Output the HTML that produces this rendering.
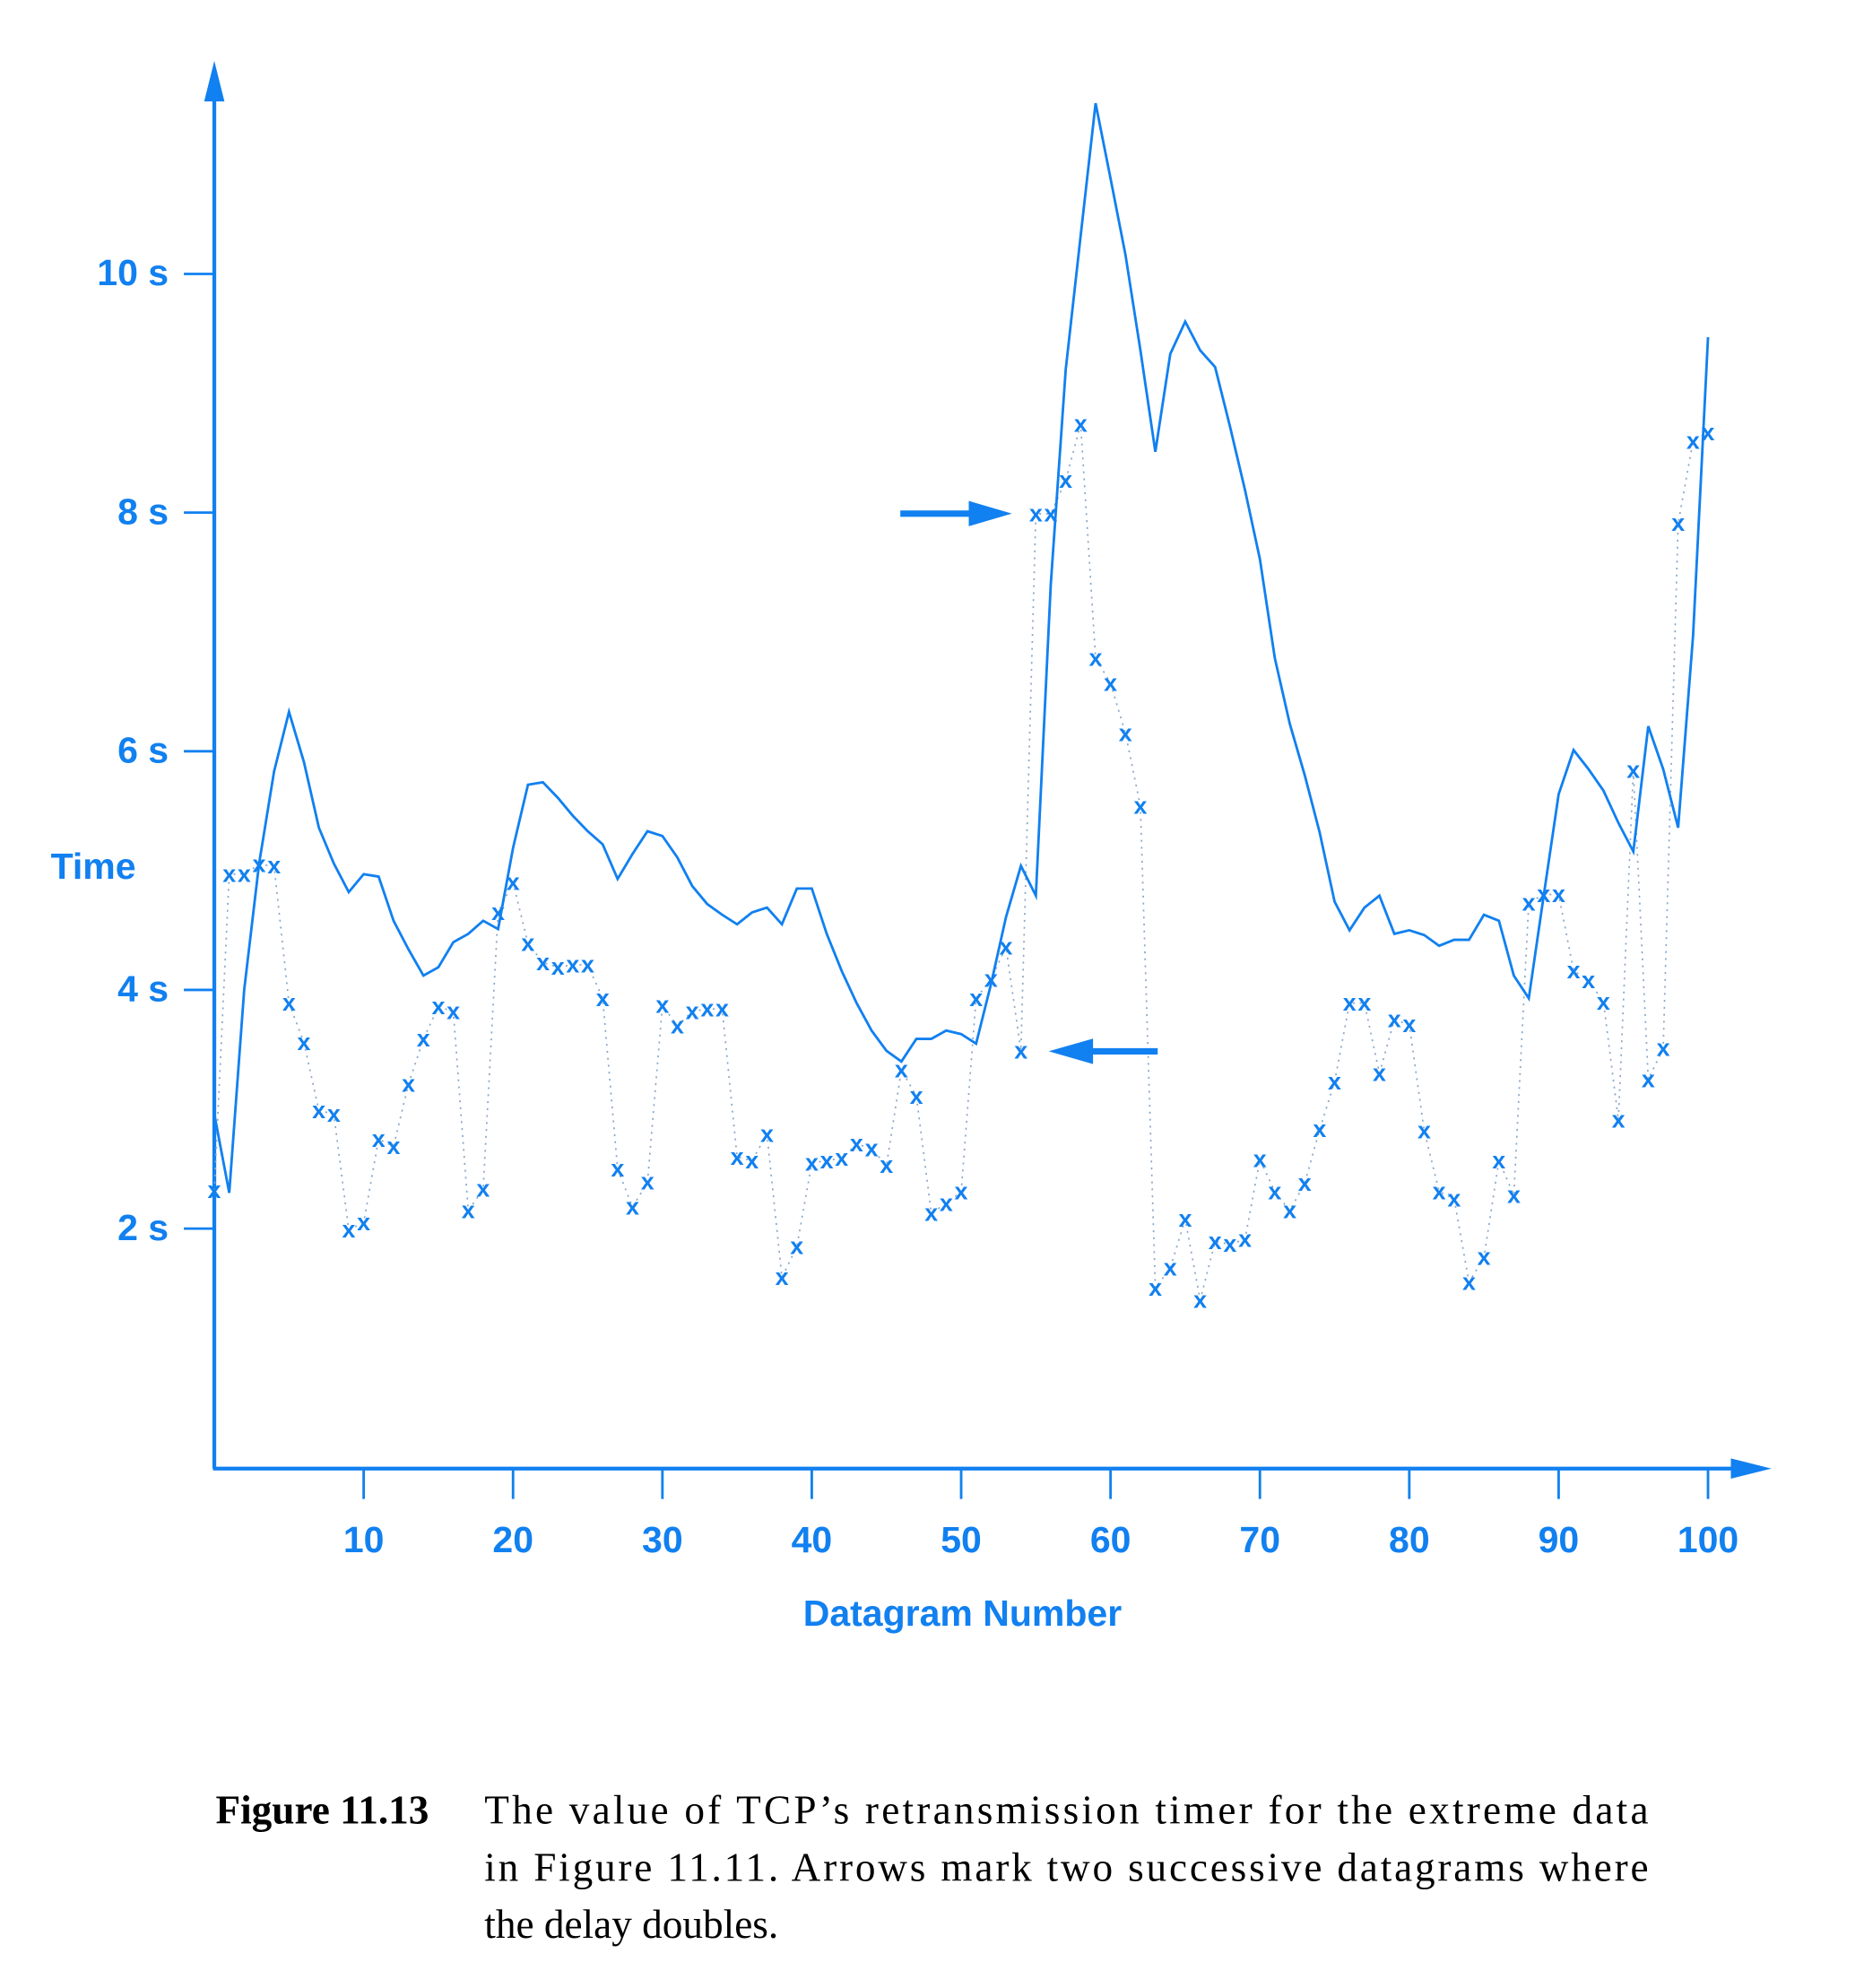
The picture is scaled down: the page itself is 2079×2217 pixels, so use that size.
<!DOCTYPE html>
<html><head><meta charset="utf-8"><style>
html,body{margin:0;padding:0;background:#fff;}
svg{display:block;}
.tk{font-family:"Liberation Sans",Arial,sans-serif;font-weight:bold;font-size:29px;fill:#1180f0;}
.mk{font-family:"Liberation Sans",Arial,sans-serif;font-weight:bold;font-size:19px;fill:#1180f0;}
.cap{font-family:"Liberation Serif","Times New Roman",serif;font-size:32px;fill:#000;}
</style></head><body>
<svg id="chart" width="2079" height="2217" viewBox="0 0 1470 1567.6" xmlns="http://www.w3.org/2000/svg">
<g id="axes"></g>
<g id="dots"></g>
<g id="line"></g>
<g id="marks"></g>
<g>
<line x1="710" y1="405" x2="770" y2="405" stroke="#1180f0" stroke-width="5"/>
<polygon points="764,395 798,405 764,415" fill="#1180f0"/></g>
<g>
<line x1="913" y1="829" x2="855" y2="829" stroke="#1180f0" stroke-width="5"/>
<polygon points="862,819 827,829 862,839" fill="#1180f0"/></g>
<text class="tk" x="40" y="693">Time</text>
<text class="tk" x="759" y="1282" text-anchor="middle">Datagram Number</text>
<g>
<text class="cap" x="170" y="1438" font-weight="bold">Figure 11.13</text>
<text class="cap" x="382" y="1438" textLength="918" lengthAdjust="spacing">The value of TCP’s retransmission timer for the extreme data</text>
<text class="cap" x="382" y="1483" textLength="918" lengthAdjust="spacing">in Figure 11.11.  Arrows mark two successive datagrams where</text>
<text class="cap" x="382" y="1528">the delay doubles.</text>
</g>
</svg>
<script>
const samples=[2.32,4.97,4.97,5.05,5.04,3.89,3.56,2.99,2.96,1.99,2.05,2.75,2.69,3.21,3.59,3.86,3.82,2.15,2.33,4.65,4.90,4.39,4.23,4.19,4.21,4.21,3.93,2.50,2.18,2.39,3.87,3.70,3.82,3.84,3.84,2.60,2.57,2.79,1.59,1.85,2.55,2.57,2.59,2.71,2.67,2.53,3.33,3.11,2.13,2.21,2.31,3.93,4.09,4.36,3.49,7.99,7.99,8.27,8.74,6.78,6.57,6.15,5.54,1.50,1.67,2.08,1.40,1.89,1.87,1.91,2.58,2.31,2.15,2.38,2.83,3.23,3.89,3.89,3.30,3.75,3.71,2.82,2.31,2.25,1.55,1.76,2.57,2.28,4.73,4.80,4.80,4.16,4.08,3.90,2.91,5.84,3.25,3.51,7.91,8.60,8.67];
const timer=[2.96,2.30,4.0,5.06,5.83,6.33,5.91,5.36,5.06,4.82,4.97,4.95,4.58,4.34,4.12,4.19,4.40,4.47,4.58,4.51,5.19,5.72,5.74,5.61,5.46,5.33,5.22,4.93,5.14,5.33,5.29,5.11,4.87,4.72,4.63,4.55,4.65,4.69,4.55,4.85,4.85,4.47,4.16,3.89,3.66,3.49,3.40,3.59,3.59,3.66,3.63,3.55,4.05,4.61,5.04,4.79,7.40,9.20,10.32,11.43,10.80,10.16,9.36,8.51,9.33,9.60,9.36,9.22,8.72,8.19,7.61,6.78,6.23,5.80,5.32,4.74,4.50,4.69,4.79,4.47,4.50,4.46,4.37,4.42,4.42,4.63,4.58,4.12,3.93,4.79,5.64,6.01,5.85,5.67,5.40,5.16,6.21,5.85,5.36,6.97,9.47];
const xTicks=[10,20,30,40,50,60,70,80,90,100];
const yTicks=[2,4,6,8,10];
const yTickLabels=["2 s","4 s","6 s","8 s","10 s"];
const NS="http://www.w3.org/2000/svg";
const X0=169,XU=11.78,Y0=1157,YU=94.1;
const sx=i=>X0+i*XU, sy=v=>Y0-v*YU;
function mk(tag,attrs,parent){const e=document.createElementNS(NS,tag);for(const k in attrs)e.setAttribute(k,attrs[k]);parent.appendChild(e);return e;}
const C="#1180f0";
const ax=document.getElementById('axes');
let a=mk('line',{x1:169,y1:1158,x2:169,y2:70,stroke:C,'stroke-width':3},ax);


a=mk('polygon',{points:"161,80 169,48 177,80",fill:C},ax);


a=mk('line',{x1:168,y1:1158,x2:1372,y2:1158,stroke:C,'stroke-width':3},ax);


a=mk('polygon',{points:"1365,1150 1397,1158 1365,1166",fill:C},ax);


xTicks.forEach(t=>{
 const l=mk('line',{x1:sx(t),y1:1158,x2:sx(t),y2:1182,stroke:C,'stroke-width':2},ax);
 
 
 const tx=mk('text',{x:sx(t),y:1224,'text-anchor':'middle',class:'tk'},ax);tx.textContent=t;
 
 
});
yTicks.forEach((t,k)=>{
 const l=mk('line',{x1:145,y1:sy(t),x2:169,y2:sy(t),stroke:C,'stroke-width':2},ax);
 
 
 const tx=mk('text',{x:133,y:sy(t)+9,'text-anchor':'end',class:'tk'},ax);tx.textContent=yTickLabels[k];
 
 
});
const dp=mk('polyline',{points:samples.map((v,i)=>sx(i)+','+sy(v)).join(' '),fill:'none',stroke:'#8aa8c8','stroke-width':1.2,'stroke-dasharray':'1.5 4'},document.getElementById('dots'));


const lp=mk('polyline',{points:timer.map((v,i)=>sx(i)+','+sy(v)).join(' '),fill:'none',stroke:C,'stroke-width':2},document.getElementById('line'));


const mg=document.getElementById('marks');
samples.forEach((v,i)=>{
 const t=mk('text',{x:sx(i),y:sy(v)+6,'text-anchor':'middle',class:'mk'},mg);t.textContent='x';
 
 
});
</script>
</body></html>
